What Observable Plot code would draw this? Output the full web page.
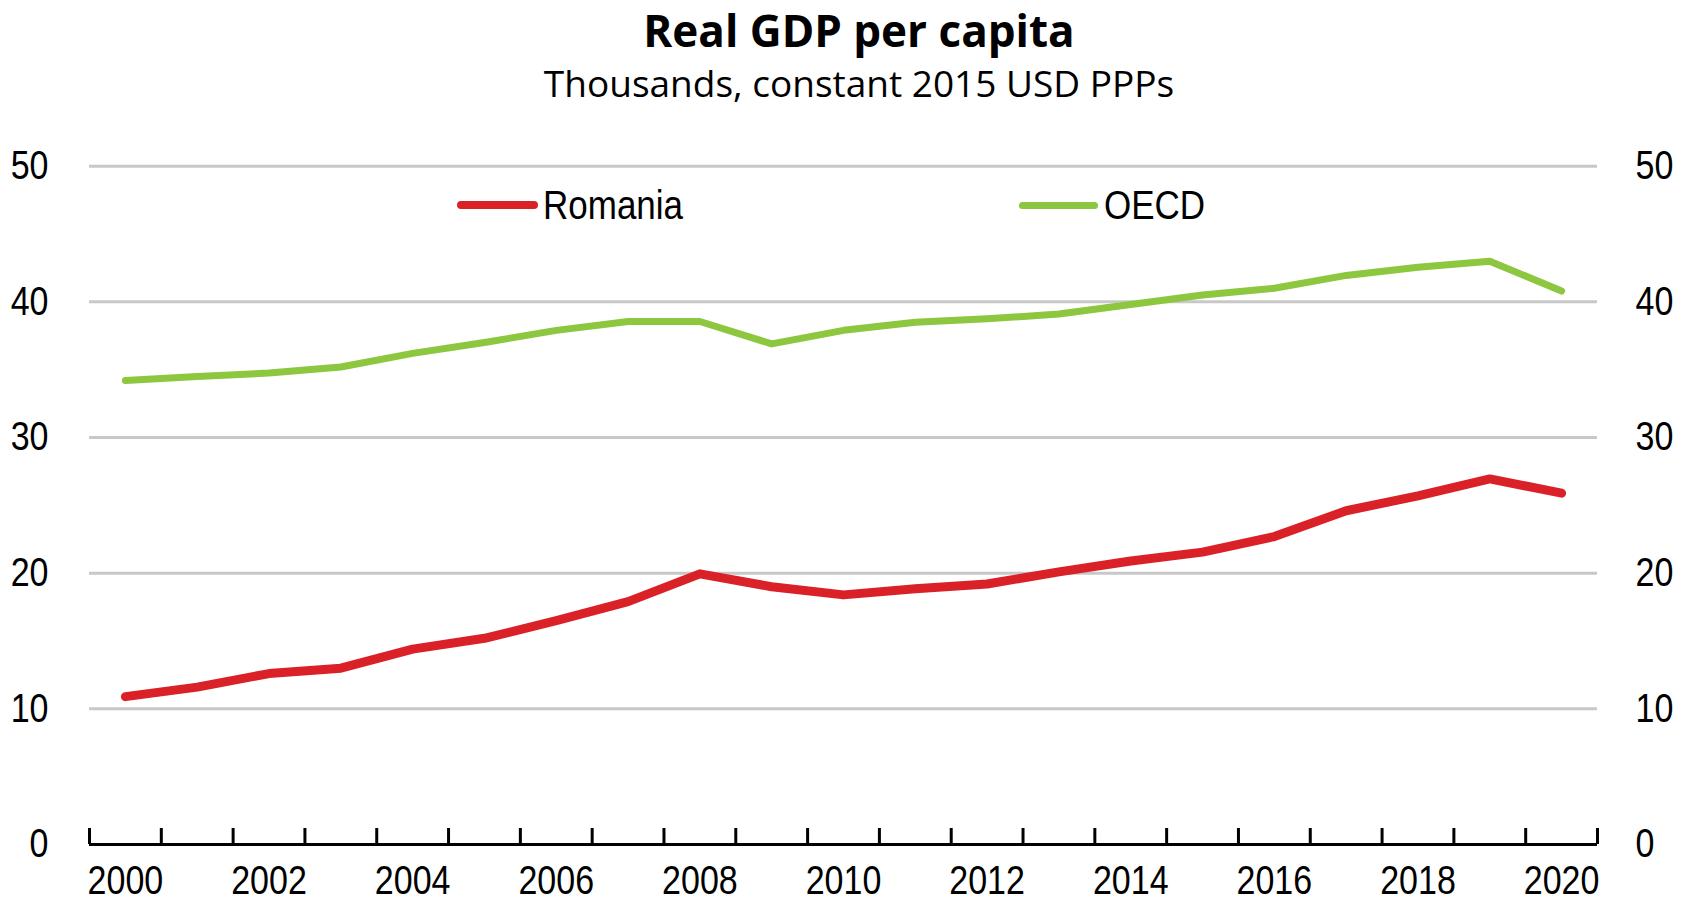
<!DOCTYPE html>
<html>
<head>
<meta charset="utf-8">
<script src="https://cdn.jsdelivr.net/npm/d3@7"></script>
<script src="https://cdn.jsdelivr.net/npm/@observablehq/plot@0.6"></script>
<style>
  html, body { margin: 0; padding: 0; background: #fff; }
  #wrap { position: relative; width: 1688px; height: 903px; overflow: hidden; }
  #head { position: relative; height: 110px; }
  #title { position: absolute; left: 15px; width: 1688px; top: 6px; text-align: center;
           font-family: "Open Sans", sans-serif; font-weight: 700; font-size: 44px; line-height: 1.1; color: #000; }
  #subtitle { position: absolute; left: 15px; width: 1688px; top: 63px; text-align: center;
           font-family: "Open Sans", sans-serif; font-weight: 400; font-size: 37px; line-height: 1.1; color: #000; }
  .lg { position: absolute; top: 205px; height: 0; }
  .lg .sw { position: absolute; top: -4px; height: 8px; border-radius: 4px; }
  .lg .tx { position: absolute; top: -22px; line-height: 44px; font-family: "Liberation Sans", Arial, sans-serif;
            font-size: 35px; color: #000; white-space: nowrap; transform-origin: left center; transform: scaleY(1.16); }
</style>
</head>
<body>
<div id="wrap">
  <div id="head">
    <div id="title">Real GDP per capita</div>
    <div id="subtitle">Thousands, constant 2015 USD PPPs</div>
  </div>
  <div id="chart"></div>
  <div class="lg" style="left:457px"><div class="sw" style="width:81px;background:#da2128"></div><div class="tx" style="left:86px">Romania</div></div>
  <div class="lg" style="left:1019px"><div class="sw" style="width:79px;background:#8dc63f;height:7px;top:-3.5px"></div><div class="tx" style="left:85px">OECD</div></div>
</div>
<script>
const years = [2000,2001,2002,2003,2004,2005,2006,2007,2008,2009,2010,2011,2012,2013,2014,2015,2016,2017,2018,2019,2020];
const romania = [10.9,11.6,12.6,13.0,14.4,15.2,16.5,17.9,19.95,19.0,18.4,18.85,19.2,20.1,20.9,21.55,22.7,24.6,25.7,26.95,25.9];
const oecd = [34.2,34.5,34.75,35.2,36.2,37.0,37.9,38.55,38.55,36.9,37.9,38.5,38.75,39.1,39.8,40.5,41.0,41.95,42.55,43.0,40.8];
const yTicks = [0,10,20,30,40,50];
const gridValues = [10,20,30,40,50];
const xTickLabels = [2000,2002,2004,2006,2008,2010,2012,2014,2016,2018,2020];
const seriesNames = ["Romania","OECD"];
const seriesColors = ["#da2128","#8dc63f"];

const tickEdges = years.map(y => y - 0.5).concat([years[years.length - 1] + 0.5]);
const romRows = years.map((y, i) => ({year: y, value: romania[i], series: seriesNames[0]}));
const oecdRows = years.map((y, i) => ({year: y, value: oecd[i], series: seriesNames[1]}));

const chart = Plot.plot({
  width: 1688,
  height: 793,
  marginLeft: 89,
  marginRight: 91,
  marginTop: 55.7,
  marginBottom: 59,
  x: {domain: [tickEdges[0], tickEdges[tickEdges.length - 1]]},
  y: {domain: [0, 50]},
  style: {fontFamily: "'Liberation Sans', Arial, sans-serif", fontSize: "34px", color: "#000", background: "#fff", overflow: "visible"},
  marks: [
    Plot.ruleY(gridValues, {stroke: "#c8c8c8", strokeWidth: 3}),
    Plot.axisY({anchor: "left", ticks: yTicks, tickSize: 0, tickPadding: 41, label: null, fontSize: 34}),
    Plot.axisY({anchor: "right", ticks: yTicks, tickSize: 0, tickPadding: 38, label: null, fontSize: 34}),
    Plot.axisX({ticks: xTickLabels, tickSize: 0, tickPadding: 23, tickFormat: d => String(d), label: null, fontSize: 34}),
    Plot.ruleX(tickEdges, {x: d => d, y1: 0, y2: 0, insetBottom: 16, stroke: "#000", strokeWidth: 3}),
    Plot.ruleY([0], {stroke: "#000", strokeWidth: 3}),
    Plot.line(oecdRows, {x: "year", y: "value", stroke: seriesColors[1], strokeWidth: 7, strokeLinecap: "round", strokeLinejoin: "round"}),
    Plot.line(romRows, {x: "year", y: "value", stroke: seriesColors[0], strokeWidth: 9, strokeLinecap: "round", strokeLinejoin: "round"})
  ]
});
document.getElementById("chart").appendChild(chart);

// stretch tick label glyphs vertically about their own centre, like the reference's tall digits
chart.querySelectorAll('g[aria-label$="tick label"] text').forEach(t => {
  const b = t.getBBox();
  const cy = b.y + b.height / 2;
  const tr = t.getAttribute("transform") || "";
  t.setAttribute("transform", `${tr} translate(0,${cy}) scale(1,1.17) translate(0,${-cy})`);
});
</script>
</body>
</html>
